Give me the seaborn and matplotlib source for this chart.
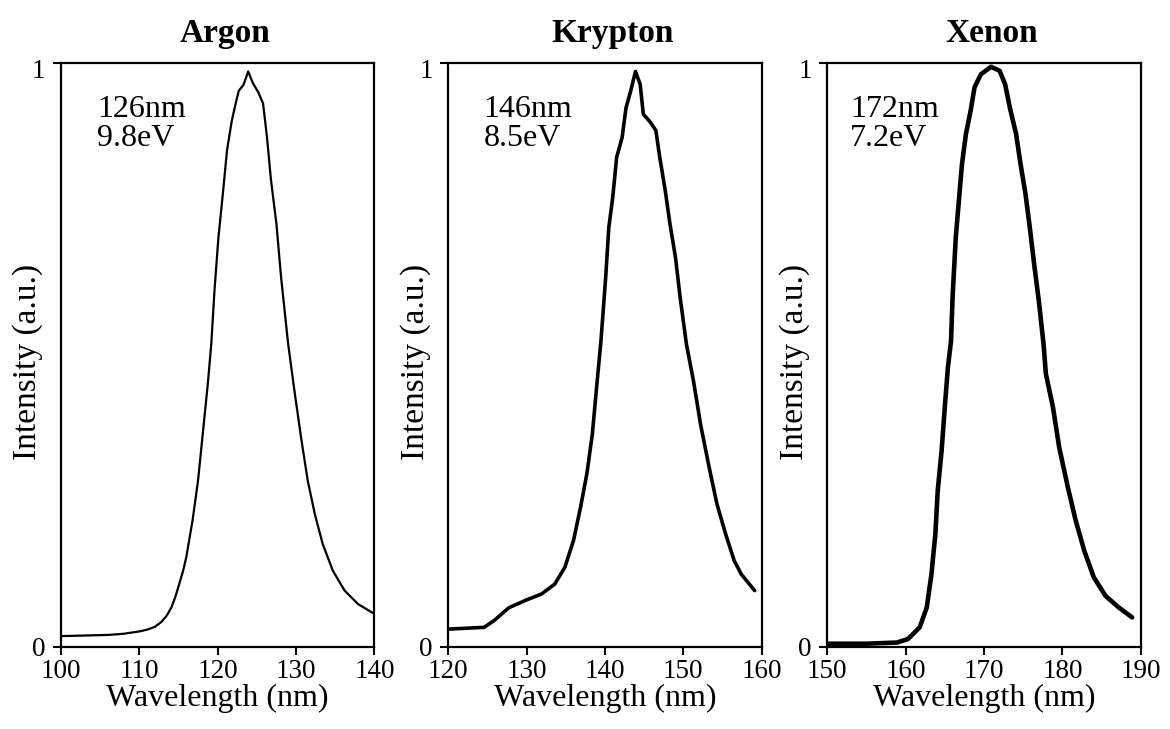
import pandas as pd
import seaborn as sns
import matplotlib
matplotlib.use("Agg")
import matplotlib.pyplot as plt
from matplotlib.transforms import ScaledTranslation

# emission spectra (wavelength in nm, normalised intensity)
argon_nm = [100, 103, 106, 108, 110, 111, 112, 112.8, 113.5, 114.1, 114.6, 115.1, 115.6, 116.0,
            116.8, 117.5, 118.1, 118.75, 119.2, 119.6, 120.1, 120.7, 121.2, 121.8, 122.3,
            122.7, 123.3, 123.9, 124.5, 125.2, 125.8, 126.3, 126.8, 127.5, 128.1, 129.0,
            129.8, 130.7, 131.5, 132.4, 133.4, 134.7, 136.2, 137.9, 140]
argon_int = [0.018, 0.019, 0.020, 0.022, 0.026, 0.029, 0.034, 0.042, 0.053, 0.067, 0.085,
             0.107, 0.13, 0.153, 0.216, 0.284, 0.364, 0.45, 0.52, 0.61, 0.70, 0.78, 0.85,
             0.90, 0.93, 0.952, 0.962, 0.985, 0.965, 0.949, 0.93, 0.872, 0.80, 0.724, 0.632,
             0.518, 0.438, 0.353, 0.284, 0.227, 0.176, 0.13, 0.096, 0.073, 0.056]

krypton_nm = [120, 124.6, 125.9, 127.0, 127.8, 129.0, 130.0, 131.9, 133.6, 134.9, 136.0, 136.9,
              137.7, 138.4, 138.9, 139.5, 140.1, 140.5, 141.0, 141.5, 142.2, 142.7, 143.3,
              143.9, 144.5, 144.9, 145.8, 146.5, 147.0, 147.7, 148.3, 149.0, 149.6, 150.4,
              151.3, 152.2, 153.3, 154.3, 155.4, 156.5, 157.4, 159.1]
krypton_int = [0.030, 0.033, 0.045, 0.058, 0.067, 0.074, 0.080, 0.090, 0.107, 0.136, 0.182,
               0.239, 0.296, 0.364, 0.438, 0.524, 0.632, 0.718, 0.769, 0.838, 0.872, 0.923,
               0.952, 0.985, 0.963, 0.912, 0.898, 0.884, 0.838, 0.781, 0.724, 0.667, 0.598,
               0.518, 0.455, 0.381, 0.307, 0.244, 0.193, 0.147, 0.124, 0.096]

xenon_nm = [150, 155, 158.9, 160.3, 161.8, 162.7, 163.3, 163.8, 164.1, 164.6, 165.0, 165.4,
            165.8, 166.0, 166.4, 166.8, 167.2, 167.7, 168.3, 168.8, 169.6, 170.9, 172.0,
            172.7, 173.3, 174.1, 174.6, 175.3, 175.9, 176.4, 177.0, 177.6, 177.9, 178.8,
            179.6, 180.7, 181.7, 182.8, 184.0, 185.5, 187.2, 188.9]
xenon_int = [0.005, 0.005, 0.007, 0.013, 0.033, 0.067, 0.124, 0.193, 0.267, 0.336, 0.41,
             0.478, 0.524, 0.60, 0.70, 0.764, 0.827, 0.878, 0.918, 0.958, 0.98, 0.993, 0.986,
             0.963, 0.923, 0.878, 0.832, 0.775, 0.712, 0.655, 0.592, 0.518, 0.467, 0.41,
             0.341, 0.273, 0.216, 0.164, 0.119, 0.087, 0.067, 0.05]

gases = ["Argon", "Krypton", "Xenon"]
peak_labels = ["126nm\n9.8eV", "146nm\n8.5eV", "172nm\n7.2eV"]
x_ranges = [(100, 140), (120, 160), (150, 190)]

sns.set_style("ticks")
plt.rcParams["font.family"] = ["Liberation Serif", "DejaVu Serif"]
plt.rcParams["text.color"] = "black"
plt.rcParams["axes.labelcolor"] = "black"
plt.rcParams["xtick.color"] = "black"
plt.rcParams["ytick.color"] = "black"

fig = plt.figure(figsize=(11.7, 7.29), dpi=100)
lefts = [0.052, 0.383, 0.707]
width = 0.268
widths = [1.6, 2.6, 3.3]
label_x = [0.115, 0.113, 0.073]

data = [(argon_nm, argon_int), (krypton_nm, krypton_int), (xenon_nm, xenon_int)]

for i, gas in enumerate(gases):
    ax = fig.add_axes([lefts[i], 0.113, width, 0.801])
    df = pd.DataFrame({"Wavelength": data[i][0], "Intensity": data[i][1]})
    sns.lineplot(data=df, x="Wavelength", y="Intensity", ax=ax, color="black",
                 linewidth=widths[i])
    lo, hi = x_ranges[i]
    ax.set_xlim(lo, hi)
    ax.set_ylim(0, 1)
    ax.set_xticks(range(lo, hi + 1, 10))
    ax.set_yticks([0, 1])
    ax.set_yticklabels(["0", "1"])
    ax.tick_params(axis="x", labelsize=19.5, length=6, width=1.5, direction="out",
                   color="black", labelcolor="black", pad=3)
    ax.tick_params(axis="y", labelsize=19.5, length=6, width=1.5, direction="out",
                   color="black", labelcolor="black", pad=5)
    for s in ax.spines.values():
        s.set_linewidth(1.6)
        s.set_color("black")
    ax.set_xlabel("Wavelength (nm)", fontsize=23, labelpad=0, color="black")
    ax.set_ylabel("Intensity (a.u.)", fontsize=24, color="black")
    ax.yaxis.set_label_coords(-0.056, 0.488)
    ax.set_title(gas, fontsize=24, fontweight="bold", pad=15, x=0.525, color="black")
    ax.text(label_x[i], 0.945, peak_labels[i], transform=ax.transAxes, fontsize=23,
            va="top", ha="left", linespacing=1.0, color="black")
    # the "1" sits a little below its tick in the original
    top_lab = ax.get_yticklabels()[1]
    top_lab.set_transform(top_lab.get_transform() +
                          ScaledTranslation(0, -0.06, fig.dpi_scale_trans))

fig.savefig("out.png", dpi=100)
